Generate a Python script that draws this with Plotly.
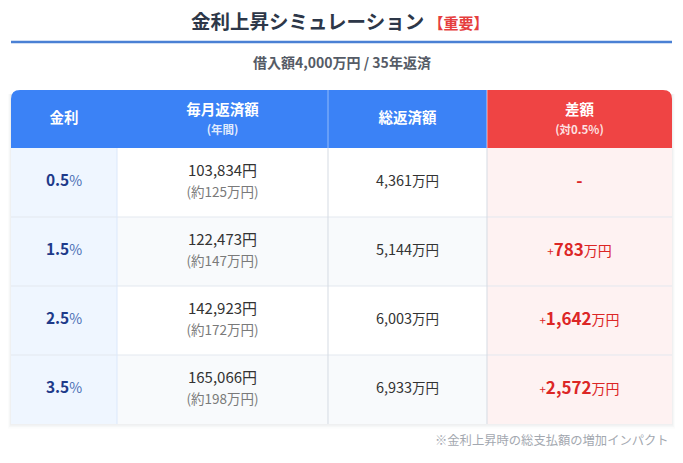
import plotly.graph_objects as go

# データ
rates = ["0.5", "1.5", "2.5", "3.5"]
monthly = ["103,834", "122,473", "142,923", "165,066"]
yearly_man = ["125", "147", "172", "198"]
total_man = ["4,361", "5,144", "6,003", "6,933"]
diff_man = [None, "783", "1,642", "2,572"]

headers = ["金利", "毎月返済額", "総返済額", "差額"]
header_subs = ["", "(年間)", "", "(対0.5%)"]

# レイアウト (ピクセル単位)
W, H = 683, 463
left, top = 11, 90
col_w = [106, 211, 159, 185]
head_h, row_h = 58, 69
radius = 9

edges = [left]
for w in col_w:
    edges.append(edges[-1] + w)
right = edges[-1]
centers = [(edges[i] + edges[i + 1]) / 2 for i in range(4)]
row_top = [top + head_h + i * row_h for i in range(len(rates))]
row_mid = [t + row_h / 2 for t in row_top]
bottom = row_top[-1] + row_h

BLUE = "#3B82F6"
RED = "#EF4444"
FONT = "Noto Sans CJK JP"

shapes = []

# 影
for k, a in enumerate([0.03, 0.022, 0.015]):
    shapes.append(dict(type="rect", x0=left - 1 - k, x1=right + 1 + k, y0=top + 4, y1=bottom + 1.5 + k * 1.5,
                       fillcolor=f"rgba(30,41,59,{a})", line_width=0, layer="below"))

# セル背景
for i, t in enumerate(row_top):
    stripe = "#FFFFFF" if i % 2 == 0 else "#F8FAFC"
    fills = ["#EFF6FF", stripe, stripe, "#FEF2F2"]
    for c in range(4):
        shapes.append(dict(type="rect", x0=edges[c], x1=edges[c + 1], y0=t, y1=t + row_h,
                           fillcolor=fills[c], line_width=0, layer="below"))


def rounded(x0, x1, y0, y1, r, left_round, right_round):
    p = ""
    if left_round:
        p += f"M {x0},{y1} L {x0},{y0 + r} Q {x0},{y0} {x0 + r},{y0} "
    else:
        p += f"M {x0},{y1} L {x0},{y0} "
    if right_round:
        p += f"L {x1 - r},{y0} Q {x1},{y0} {x1},{y0 + r} L {x1},{y1} Z"
    else:
        p += f"L {x1},{y0} L {x1},{y1} Z"
    return p


# ヘッダー
shapes.append(dict(type="path", path=rounded(edges[0], edges[3], top, top + head_h, radius, True, False),
                   fillcolor=BLUE, line_width=0, layer="below"))
shapes.append(dict(type="path", path=rounded(edges[3], edges[4], top, top + head_h, radius, False, True),
                   fillcolor=RED, line_width=0, layer="below"))
shapes.append(dict(type="line", x0=edges[2], x1=edges[2], y0=top, y1=top + head_h,
                   line=dict(color="rgba(255,255,255,0.45)", width=1), layer="below"))
shapes.append(dict(type="line", x0=edges[3], x1=edges[3], y0=top, y1=top + head_h,
                   line=dict(color="rgba(255,255,255,0.6)", width=1), layer="below"))

# 罫線
for t in row_top[1:]:
    shapes.append(dict(type="line", x0=left, x1=right, y0=t, y1=t, line=dict(color="#E3E8EF", width=1),
                       layer="below"))
shapes.append(dict(type="line", x0=edges[1], x1=edges[1], y0=top + head_h, y1=bottom,
                   line=dict(color="#DBE8FA", width=1), layer="below"))
for c in (2, 3):
    shapes.append(dict(type="line", x0=edges[c], x1=edges[c], y0=top + head_h, y1=bottom,
                       line=dict(color="#D5DBE3", width=1), layer="below"))

# タイトル下の線
shapes.append(dict(type="line", x0=left, x1=right, y0=42, y1=42, line=dict(color="#4A80D4", width=2.5)))

fig = go.Figure()

# ヘッダー文字
head_main_y = [top + head_h / 2 if not s else top + head_h / 2 - 8 for s in header_subs]
fig.add_trace(go.Scatter(x=centers, y=head_main_y, mode="text",
                         text=[f"<b>{h}</b>" for h in headers],
                         textfont=dict(family=FONT, size=14.5, color="white"), hoverinfo="skip"))
fig.add_trace(go.Scatter(x=centers, y=[top + head_h / 2 + 12] * 4, mode="text",
                         text=[f"<b>{s}</b>" if s else "" for s in header_subs],
                         textfont=dict(family=FONT, size=11.5, color="rgba(255,255,255,0.85)"), hoverinfo="skip"))

# 金利
fig.add_trace(go.Scatter(x=[centers[0]] * 4, y=row_mid, mode="text",
                         text=[f"<b>{r}</b><span style='font-size:14px;color:#4B6FB5'>%</span>" for r in rates],
                         textfont=dict(family=FONT, size=15.5, color="#1E3A8A"), hoverinfo="skip"))

# 毎月返済額
fig.add_trace(go.Scatter(x=[centers[1]] * 4, y=[m - 10 for m in row_mid], mode="text",
                         text=[f"{m}円" for m in monthly],
                         textfont=dict(family=FONT, size=15, color="#333333"), hoverinfo="skip"))
fig.add_trace(go.Scatter(x=[centers[1]] * 4, y=[m + 11 for m in row_mid], mode="text",
                         text=[f"(約{y}万円)" for y in yearly_man],
                         textfont=dict(family=FONT, size=13.5, color="#7A7A7A"), hoverinfo="skip"))

# 総返済額
fig.add_trace(go.Scatter(x=[centers[2]] * 4, y=row_mid, mode="text",
                         text=[f"{t}<span style='font-size:13.5px'>万円</span>" for t in total_man],
                         textfont=dict(family=FONT, size=14.5, color="#333333"), hoverinfo="skip"))

# 差額
diff_text = []
for d in diff_man:
    if d is None:
        diff_text.append("<b>-</b>")
    else:
        diff_text.append(f"<span style='font-size:11.5px'>+</span><b>{d}</b>"
                         f"<span style='font-size:14px'>万円</span>")
fig.add_trace(go.Scatter(x=[centers[3]] * 4, y=row_mid, mode="text", text=diff_text,
                         textfont=dict(family=FONT, size=17, color="#DC2626"), hoverinfo="skip"))

annotations = [
    dict(x=W / 2 - 2, y=20, text="<b>金利上昇シミュレーション</b> "
                                 "<span style='font-size:15px;color:#E53E3E'><b>【重要】</b></span>",
         font=dict(family=FONT, size=19.5, color="#2D3748")),
    dict(x=W / 2, y=62, text="<b>借入額4,000万円 / 35年返済</b>",
         font=dict(family=FONT, size=14, color="#555B66")),
    dict(x=right - 1, y=440, xanchor="right", text="※金利上昇時の総支払額の増加インパクト",
         font=dict(family=FONT, size=12.3, color="#A3A8B0")),
]
for a in annotations:
    a.update(xref="x", yref="y", showarrow=False)
    a.setdefault("xanchor", "center")
    a["yanchor"] = "middle"

fig.update_layout(
    width=W, height=H,
    margin=dict(l=0, r=0, t=0, b=0),
    paper_bgcolor="white", plot_bgcolor="white",
    showlegend=False,
    shapes=shapes,
    annotations=annotations,
    xaxis=dict(range=[0, W], visible=False, fixedrange=True),
    yaxis=dict(range=[H, 0], visible=False, fixedrange=True),
)

fig.write_html("out.html", config={"displayModeBar": False},
               post_script="document.body.style.margin='0';")
